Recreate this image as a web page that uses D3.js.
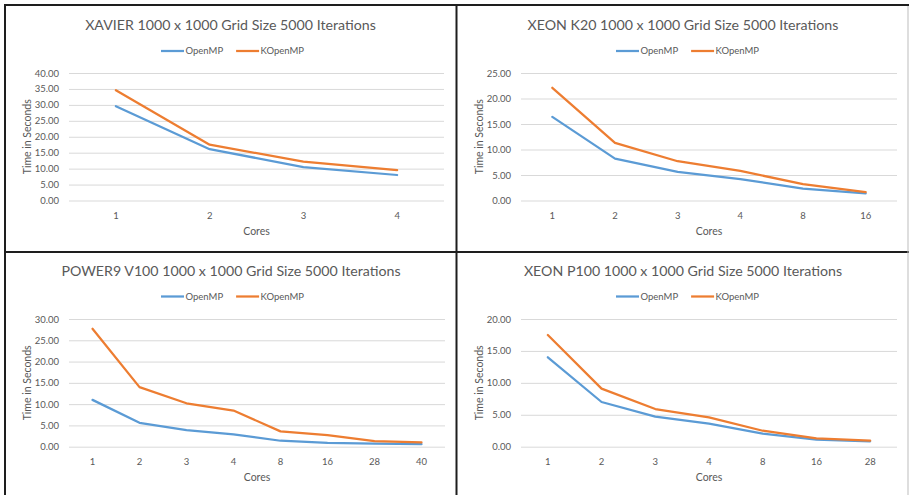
<!DOCTYPE html>
<html>
<head>
<meta charset="utf-8">
<script src="https://cdn.jsdelivr.net/npm/d3@7"></script>
<style>
  html, body { margin: 0; padding: 0; background: #fff; }
  svg { display: block; }
  text { font-family: Lato, "Open Sans", sans-serif; fill: #595959; }
</style>
</head>
<body>
<svg id="chart" width="909" height="495"></svg>
<script>
// Run times (seconds) for a 1000 x 1000 grid, 5000 iterations
const seriesNames = ["OpenMP", "KOpenMP"];
const seriesColors = ["#5B9BD5", "#ED7D31"];

const xavierCores = ["1", "2", "3", "4"];
const xavierOpenMP = [29.6, 16.1, 10.5, 8.0];
const xavierKOpenMP = [34.6, 17.5, 12.2, 9.5];
const xavierTicks = [0, 5, 10, 15, 20, 25, 30, 35, 40];

const k20Cores = ["1", "2", "3", "4", "8", "16"];
const k20OpenMP = [16.4, 8.2, 5.6, 4.2, 2.35, 1.4];
const k20KOpenMP = [22.1, 11.3, 7.7, 5.8, 3.2, 1.65];
const k20Ticks = [0, 5, 10, 15, 20, 25];

const powerCores = ["1", "2", "3", "4", "8", "16", "28", "40"];
const powerOpenMP = [11.0, 5.6, 3.9, 2.9, 1.4, 0.9, 0.7, 0.6];
const powerKOpenMP = [27.7, 14.0, 10.2, 8.5, 3.6, 2.7, 1.3, 1.0];
const powerTicks = [0, 5, 10, 15, 20, 25, 30];

const p100Cores = ["1", "2", "3", "4", "8", "16", "28"];
const p100OpenMP = [14.0, 7.0, 4.7, 3.6, 2.05, 1.1, 0.85];
const p100KOpenMP = [17.5, 9.1, 5.9, 4.6, 2.5, 1.3, 0.95];
const p100Ticks = [0, 5, 10, 15, 20];

const titles = [
  "XAVIER 1000 x 1000 Grid Size 5000 Iterations",
  "XEON K20 1000 x 1000 Grid Size 5000 Iterations",
  "POWER9 V100 1000 x 1000 Grid Size 5000 Iterations",
  "XEON P100 1000 x 1000 Grid Size 5000 Iterations"
];

const panels = [
  { title: titles[0], cores: xavierCores, series: [xavierOpenMP, xavierKOpenMP], ticks: xavierTicks,
    ox: 0, oy: 0, left: 69, right: 444, top: 73, bottom: 200.5, titleY: 29.5, legendY: 51 },
  { title: titles[1], cores: k20Cores, series: [k20OpenMP, k20KOpenMP], ticks: k20Ticks,
    ox: 455, oy: 0, left: 66, right: 442, top: 73, bottom: 200.5, titleY: 29.5, legendY: 51 },
  { title: titles[2], cores: powerCores, series: [powerOpenMP, powerKOpenMP], ticks: powerTicks,
    ox: 0, oy: 248, left: 69, right: 445, top: 71, bottom: 198.7, titleY: 27.5, legendY: 48.5 },
  { title: titles[3], cores: p100Cores, series: [p100OpenMP, p100KOpenMP], ticks: p100Ticks,
    ox: 455, oy: 248, left: 66, right: 442, top: 71, bottom: 198.7, titleY: 27.5, legendY: 48.5 }
];

const svg = d3.select("#chart");

panels.forEach(p => {
  const g = svg.append("g").attr("transform", `translate(${p.ox},${p.oy})`);

  const x = d3.scaleBand().domain(p.cores).range([p.left, p.right]);
  const y = d3.scaleLinear().domain([0, d3.max(p.ticks)]).range([p.bottom, p.top]);

  // Title
  g.append("text")
    .attr("x", (p.left + p.right) / 2 - 26)
    .attr("y", p.titleY)
    .attr("text-anchor", "middle")
    .style("font-size", "14.2px")
    .text(p.title);

  // Legend
  const lg = g.append("g").attr("transform", `translate(161,${p.legendY})`);
  let lx = 0;
  seriesNames.forEach((name, i) => {
    lg.append("line")
      .attr("x1", lx).attr("x2", lx + 23).attr("y1", 0).attr("y2", 0)
      .attr("stroke", seriesColors[i]).attr("stroke-width", 2.25);
    const t = lg.append("text")
      .attr("x", lx + 24.5).attr("y", 3.3)
      .style("font-size", "9.5px")
      .text(name);
    lx += 24.5 + t.node().getComputedTextLength() + 13;
  });

  // Y axis: gridlines and labels
  const yAxis = d3.axisLeft(y)
    .tickValues(p.ticks)
    .tickSize(-(p.right - p.left))
    .tickPadding(10)
    .tickFormat(d3.format(".2f"));
  const ya = g.append("g").attr("transform", `translate(${p.left},0)`).call(yAxis);
  ya.select(".domain").remove();
  ya.selectAll(".tick line").attr("stroke", "#D9D9D9").attr("stroke-width", 1);
  ya.selectAll(".tick text")
    .attr("fill", "#595959")
    .style("font-family", "Lato, sans-serif")
    .style("font-size", "9.5px");

  // X axis: category labels, no ticks
  const xAxis = d3.axisBottom(x).tickSize(0).tickPadding(12);
  const xa = g.append("g").attr("transform", `translate(0,${p.bottom})`).call(xAxis);
  xa.select(".domain").remove();
  xa.selectAll(".tick text")
    .attr("fill", "#595959")
    .style("font-family", "Lato, sans-serif")
    .style("font-size", "9.5px");

  // Axis titles
  g.append("text")
    .attr("x", (p.left + p.right) / 2)
    .attr("y", p.bottom + 34)
    .attr("text-anchor", "middle")
    .style("font-size", "10.5px")
    .text("Cores");
  g.append("text")
    .attr("transform", `translate(${p.left - 38},${(p.top + p.bottom) / 2}) rotate(-90)`)
    .attr("text-anchor", "middle")
    .style("font-size", "10.5px")
    .text("Time in Seconds");

  // Series lines
  const line = d3.line()
    .x((d, i) => x(p.cores[i]) + x.bandwidth() / 2)
    .y(d => y(d));
  p.series.forEach((vals, i) => {
    g.append("path")
      .datum(vals)
      .attr("d", line)
      .attr("fill", "none")
      .attr("stroke", seriesColors[i])
      .attr("stroke-width", 2.25)
      .attr("stroke-linejoin", "round")
      .attr("stroke-linecap", "round");
  });
});

// Panel frame lines
const frame = svg.append("g");
frame.append("line").attr("x1", 5).attr("x2", 5).attr("y1", 4).attr("y2", 495)
  .attr("stroke", "#1e1e1e").attr("stroke-width", 2);
frame.append("line").attr("x1", 4).attr("x2", 909).attr("y1", 5).attr("y2", 5)
  .attr("stroke", "#1e1e1e").attr("stroke-width", 2);
frame.append("line").attr("x1", 456.5).attr("x2", 456.5).attr("y1", 4).attr("y2", 495)
  .attr("stroke", "#1e1e1e").attr("stroke-width", 2);
frame.append("line").attr("x1", 4).attr("x2", 909).attr("y1", 252).attr("y2", 252)
  .attr("stroke", "#1e1e1e").attr("stroke-width", 2);
frame.append("line").attr("x1", 908).attr("x2", 908).attr("y1", 6).attr("y2", 495)
  .attr("stroke", "#bdbdbd").attr("stroke-width", 1);
</script>
</body>
</html>
